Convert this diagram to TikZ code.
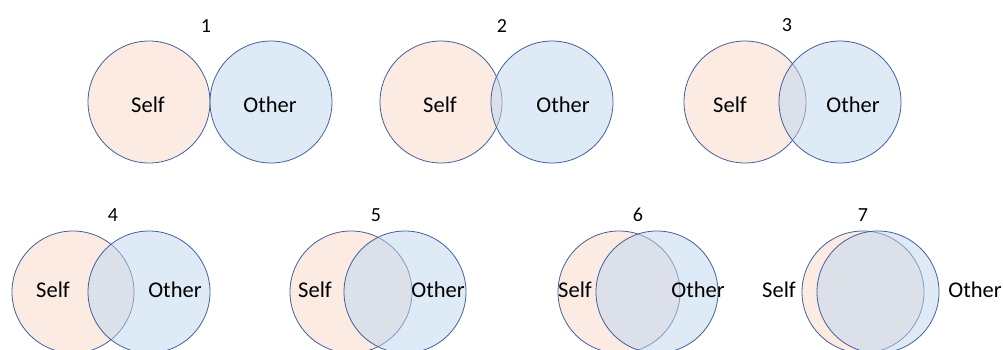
\documentclass[tikz,border=0pt]{standalone}
\usepackage{fontspec}
\setmainfont{Carlito}
\usepackage{tikz}

\begin{document}
\begin{tikzpicture}[x=1pt,y=1pt,yscale=-1,xscale=1,
  selfdisk/.style={draw={rgb, 255:red, 68; green, 94; blue, 158 },line width=0.8pt,fill={rgb, 255:red, 251; green, 235; blue, 227 }},
  otherdisk/.style={draw={rgb, 255:red, 68; green, 94; blue, 158 },line width=0.8pt,fill={rgb, 255:red, 189; green, 215; blue, 240 },fill opacity=0.5},
  caselabel/.style={inner sep=0pt,font=\fontsize{20}{23}\selectfont},
  setlabel/.style={inner sep=0pt,font=\fontsize{22.5}{26}\selectfont}]
%set diagram left start at 0, and has height of 349
\useasboundingbox (0,0) rectangle (1003,349);

%Case 1
\draw [selfdisk] (149,102) circle (61);
\draw [otherdisk] (271,102) circle (61);
\node [caselabel] (num1) at (206,26) {1};
\node [setlabel] (self1) at (148,105) {Self};
\node [setlabel] (other1) at (270,105) {Other};

%Case 2
\draw [selfdisk] (441,102) circle (61);
\draw [otherdisk] (552,102) circle (61);
\node [caselabel] (num2) at (502,26) {2};
\node [setlabel] (self2) at (440,105) {Self};
\node [setlabel] (other2) at (563,105) {Other};

%Case 3
\draw [selfdisk] (745,102) circle (61);
\draw [otherdisk] (840,102) circle (61);
\node [caselabel] (num3) at (787,25) {3};
\node [setlabel] (self3) at (730,105) {Self};
\node [setlabel] (other3) at (853,105) {Other};

%Case 4
\draw [selfdisk] (73,292) circle (61);
\draw [otherdisk] (149,292) circle (61);
\node [caselabel] (num4) at (113,215) {4};
\node [setlabel] (self4) at (53,290) {Self};
\node [setlabel] (other4) at (175,290) {Other};

%Case 5
\draw [selfdisk] (351,292) circle (61);
\draw [otherdisk] (405,292) circle (61);
\node [caselabel] (num5) at (376,215) {5};
\node [setlabel] (self5) at (315,290) {Self};
\node [setlabel] (other5) at (438,290) {Other};

%Case 6
\draw [selfdisk] (619,292) circle (61);
\draw [otherdisk] (657,292) circle (61);
\node [caselabel] (num6) at (638,215) {6};
\node [setlabel] (self6) at (575,290) {Self};
\node [setlabel] (other6) at (698,290) {Other};

%Case 7
\draw [selfdisk] (863,292) circle (61);
\draw [otherdisk] (878,292) circle (61);
\node [caselabel] (num7) at (863,215) {7};
\node [setlabel] (self7) at (779,290) {Self};
\node [setlabel] (other7) at (975,290) {Other};
\end{tikzpicture}
\end{document}
